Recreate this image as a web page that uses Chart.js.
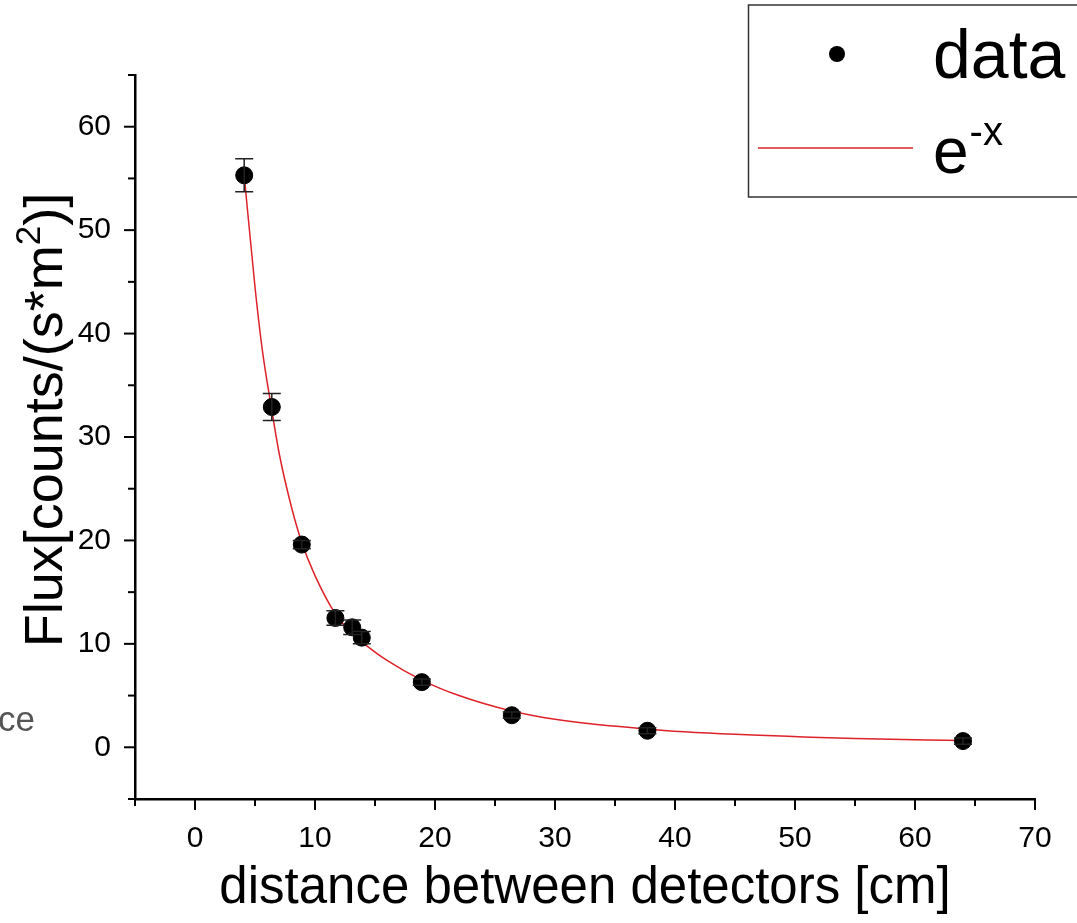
<!DOCTYPE html>
<html>
<head>
<meta charset="utf-8">
<script src="https://cdn.jsdelivr.net/npm/chart.js@4.4.1/dist/chart.umd.min.js"></script>
<style>
  html, body { margin: 0; padding: 0; background: #fff; }
  #wrap { width: 1077px; height: 923px; }
</style>
</head>
<body>
<div id="wrap"><canvas id="fluxChart" width="1077" height="923"></canvas></div>
<script>
// measured distances and flux
const distance = [4.1, 6.4, 8.9, 11.7, 13.1, 13.9, 18.9, 26.4, 37.7, 64.0];
const flux = [55.3, 32.9, 19.6, 12.5, 11.6, 10.6, 6.3, 3.1, 1.6, 0.6];
const fluxErr = [1.6, 1.3, 0.4, 0.7, 0.7, 0.6, 0.3, 0.3, 0.3, 0.3];

// fit curve
const fitX = [4.1, 5.0, 5.6, 6.4, 7.0, 8.0, 8.9, 10, 11.7, 13.1, 14, 16, 18.9, 22, 26.4, 30, 37.7, 45, 55, 64];
const fitY = [55.3, 44.5, 38.5, 32.6, 28.5, 23.4, 19.8, 16.6, 12.9, 11.0, 10.1, 8.4, 6.5, 5.0, 3.5, 2.7, 1.75, 1.25, 0.85, 0.65];

const xTicks = [0, 10, 20, 30, 40, 50, 60, 70];
const yTicks = [0, 10, 20, 30, 40, 50, 60];

const FONT = '"Liberation Sans", Arial, sans-serif';

const decorations = {
  id: 'decorations',
  afterDraw(chart) {
    const ctx = chart.ctx;
    const xs = chart.scales.x, ys = chart.scales.y;
    const area = chart.chartArea;
    ctx.save();

    // tick marks, major and minor
    ctx.strokeStyle = '#000';
    ctx.lineWidth = 2;
    for (let v = -5; v <= 70; v += 5) {
      const px = xs.getPixelForValue(v);
      const len = v % 10 === 0 ? 11 : 7;
      ctx.beginPath();
      ctx.moveTo(px, area.bottom);
      ctx.lineTo(px, area.bottom + len);
      ctx.stroke();
    }
    for (let v = -5; v <= 65; v += 5) {
      const py = ys.getPixelForValue(v);
      const len = v % 10 === 0 ? 11 : 7;
      ctx.beginPath();
      ctx.moveTo(area.left, py);
      ctx.lineTo(area.left - len, py);
      ctx.stroke();
    }

    // error bars
    ctx.strokeStyle = '#222';
    ctx.lineWidth = 1.5;
    distance.forEach((d, i) => {
      const px = xs.getPixelForValue(d);
      const top = ys.getPixelForValue(flux[i] + fluxErr[i]);
      const bot = ys.getPixelForValue(flux[i] - fluxErr[i]);
      ctx.beginPath();
      ctx.moveTo(px, top); ctx.lineTo(px, bot);
      ctx.moveTo(px - 9, top); ctx.lineTo(px + 9, top);
      ctx.moveTo(px - 9, bot); ctx.lineTo(px + 9, bot);
      ctx.stroke();
    });

    // axis titles
    ctx.fillStyle = '#000';
    ctx.font = '51px ' + FONT;
    ctx.textAlign = 'center';
    ctx.textBaseline = 'alphabetic';
    ctx.fillText('distance between detectors [cm]', 585, 903);

    ctx.save();
    ctx.translate(62, 420);
    ctx.rotate(-Math.PI / 2);
    ctx.font = '54px ' + FONT;
    ctx.textAlign = 'left';
    const p1 = 'Flux[counts/(s*m';
    const w1 = ctx.measureText(p1).width;
    ctx.font = '35px ' + FONT;
    const w2 = ctx.measureText('2').width;
    ctx.font = '54px ' + FONT;
    const w3 = ctx.measureText(')]').width;
    const start = -(w1 + w2 + w3) / 2;
    ctx.fillText(p1, start, 0);
    ctx.font = '35px ' + FONT;
    ctx.fillText('2', start + w1, -22);
    ctx.font = '54px ' + FONT;
    ctx.fillText(')]', start + w1 + w2, 0);
    ctx.restore();

    // stray text fragment at left edge
    ctx.fillStyle = '#555';
    ctx.font = '35px ' + FONT;
    ctx.textAlign = 'right';
    ctx.fillText('ce', 35, 731);

    // legend box
    ctx.strokeStyle = '#333';
    ctx.lineWidth = 1.5;
    ctx.strokeRect(748.5, 5, 340, 192);
    ctx.fillStyle = '#000';
    ctx.beginPath();
    ctx.arc(837, 54, 8, 0, Math.PI * 2);
    ctx.fill();
    ctx.font = '68px ' + FONT;
    ctx.textAlign = 'left';
    ctx.fillText('data', 933, 78);
    ctx.strokeStyle = '#d9262e';
    ctx.lineWidth = 1.5;
    ctx.beginPath();
    ctx.moveTo(758, 148); ctx.lineTo(913, 148);
    ctx.stroke();
    ctx.font = '64px ' + FONT;
    ctx.fillText('e', 933, 173);
    const we = ctx.measureText('e').width;
    ctx.font = '40px ' + FONT;
    ctx.fillText('-x', 933 + we + 1, 145);
    ctx.restore();
  }
};

new Chart(document.getElementById('fluxChart'), {
  type: 'scatter',
  data: {
    datasets: [
      {
        label: 'e^-x',
        data: fitX.map((x, i) => ({ x, y: fitY[i] })),
        showLine: true,
        borderColor: '#dd2229',
        borderWidth: 1.5,
        pointRadius: 0,
        cubicInterpolationMode: 'monotone',
        order: 2
      },
      {
        label: 'data',
        data: distance.map((x, i) => ({ x, y: flux[i] })),
        backgroundColor: '#000',
        borderColor: '#000',
        pointRadius: 8.5,
        order: 1
      }
    ]
  },
  options: {
    responsive: false,
    animation: false,
    layout: { padding: { left: 0, top: 75, right: 42, bottom: 0 } },
    plugins: {
      legend: { display: false },
      tooltip: { enabled: false }
    },
    scales: {
      x: {
        type: 'linear',
        min: -5,
        max: 70,
        afterBuildTicks: s => { s.ticks = xTicks.map(v => ({ value: v })); },
        afterFit: s => { s.height = 124; },
        grid: { display: false, drawTicks: false },
        border: { display: true, color: '#000', width: 2.5 },
        ticks: { color: '#000', font: { family: FONT, size: 30 }, padding: 22, maxRotation: 0 }
      },
      y: {
        type: 'linear',
        min: -5,
        max: 65,
        afterBuildTicks: s => { s.ticks = yTicks.map(v => ({ value: v })); },
        afterFit: s => { s.width = 135; },
        grid: { display: false, drawTicks: false },
        border: { display: true, color: '#000', width: 2.5 },
        ticks: { color: '#000', font: { family: FONT, size: 30 }, padding: 24 }
      }
    }
  },
  plugins: [decorations]
});
</script>
</body>
</html>
